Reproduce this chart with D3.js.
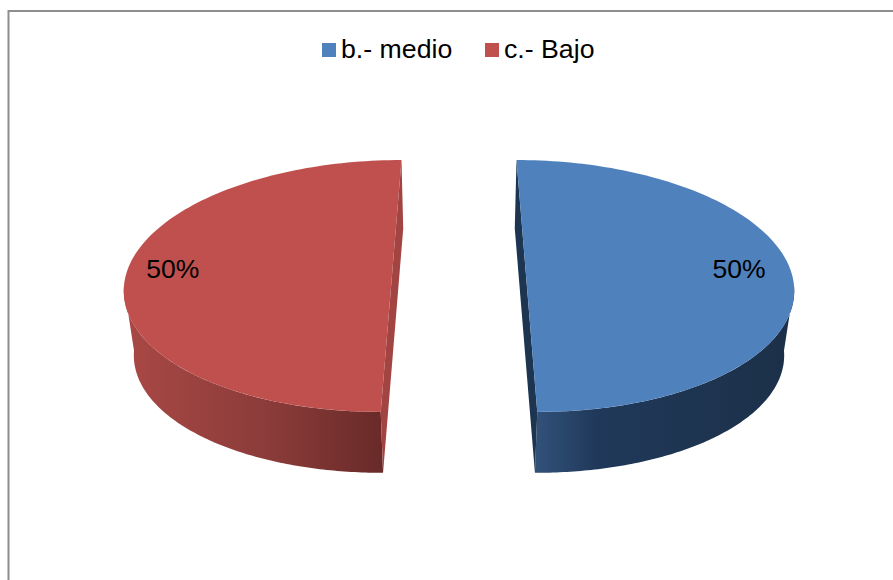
<!DOCTYPE html>
<html>
<head>
<meta charset="utf-8">
<script src="https://cdn.jsdelivr.net/npm/d3@7"></script>
<style>
    html, body { margin: 0; padding: 0; background: #fff; overflow: hidden; }
    svg { display: block; }
    text { font-family: "Liberation Sans", Arial, sans-serif; fill: #000; }
</style>
</head>
<body>
<svg id="chart" width="893" height="580"></svg>
<script>
const categories = ['b.- medio', 'c.- Bajo'];
const values = [50, 50];
const labels = ['50%', '50%'];

const topColors = ['#4f81bd', '#c0504d'];
const sideColors = ['#1d3550', '#a24542'];
const wallStops = [
    [['0%', '#32527a'], ['25%', '#20395a'], ['100%', '#1c3149']],
    [['0%', '#a64744'], ['55%', '#8a3b39'], ['100%', '#682a28']],
];
const labelRadius = [0.81, 0.833];

const svg = d3.select('#chart');

// frame of the chart area, it runs off the right and bottom of the picture
svg.append('rect')
    .attr('x', 8.5).attr('y', 11)
    .attr('width', 900).attr('height', 590)
    .attr('fill', '#fff')
    .attr('stroke', '#8e8e8e')
    .attr('stroke-width', 2);

// 3D view of the pie: perspective on the ground plane, explode along x
const centerX = 459;
const topY = 266.7;
const bottomY = 332;
const radiusX = 264;
const radiusY = 123;
const persp = 0.153;
const explode = 66.3;
const bottomScale = 0.97;

function project(angle, r, side, level) {
    const u = Math.sin(angle) * r;
    const v = -Math.cos(angle) * r;
    const w = 1 / (1 - persp * v);
    const s = level === 1 ? bottomScale : 1;
    return [
        centerX + (radiusX * u + side * explode) * w * s,
        (level === 1 ? bottomY : topY) + radiusY * v * w * s,
    ];
}

const line = d3.line().curve(d3.curveLinear);
const slices = d3.pie().sort(null)(values);

// rim stops being visible where it turns away at the widest point
const tangent = Math.acos(persp);

function samples(a0, a1) {
    return d3.range(0, 121).map((i) => a0 + ((a1 - a0) * i) / 120);
}

const defs = svg.append('defs');

slices.forEach((d, i) => {
    const side = d.startAngle < Math.PI - 0.001 ? 1 : -1;
    const g = svg.append('g').attr('class', 'slice');

    // outer wall, only the front part
    const a0 = side === 1 ? Math.PI - tangent : d.startAngle;
    const a1 = side === 1 ? d.endAngle : Math.PI + tangent;
    const wallAngles = samples(a0, a1);
    const upper = wallAngles.map((a) => project(a, 1, side, 0));
    const lower = wallAngles.map((a) => project(a, 1, side, 1)).reverse();

    const gradId = `wall-${i}`;
    const cutX = project(Math.PI, 1, side, 1)[0];
    const farX = project(Math.PI / 2 + (side === 1 ? 0 : Math.PI), 1, side, 1)[0];
    const grad = defs.append('linearGradient')
        .attr('id', gradId)
        .attr('gradientUnits', 'userSpaceOnUse')
        .attr('x1', side === 1 ? cutX : farX).attr('x2', side === 1 ? farX : cutX)
        .attr('y1', 0).attr('y2', 0);
    wallStops[i].forEach((s) => grad.append('stop').attr('offset', s[0]).attr('stop-color', s[1]));

    g.append('path')
        .attr('d', line(upper.concat(lower)) + 'Z')
        .attr('fill', `url(#${gradId})`);

    // cut face seen through the gap
    const cut = [
        project(0, 1, side, 0),
        project(0, 1, side, 1),
        project(Math.PI, 1, side, 1),
        project(Math.PI, 1, side, 0),
    ];
    g.append('path')
        .attr('d', line(cut) + 'Z')
        .attr('fill', sideColors[i]);

    // top face
    const rim = samples(d.startAngle, d.endAngle).map((a) => project(a, 1, side, 0));
    g.append('path')
        .attr('d', line(rim) + 'Z')
        .attr('fill', topColors[i]);

    // data label
    const pos = project((d.startAngle + d.endAngle) / 2, labelRadius[i], side, 0);
    g.append('text')
        .attr('x', pos[0]).attr('y', pos[1] + 11)
        .attr('text-anchor', 'middle')
        .style('font-size', '26.5px')
        .text(labels[i]);
});

// legend
const legendX = d3.scaleOrdinal().domain(categories).range([322, 485]);
const legend = svg.selectAll('.legend')
    .data(categories)
    .join('g')
    .attr('class', 'legend')
    .attr('transform', (c) => `translate(${legendX(c)},43)`);

legend.append('rect')
    .attr('width', 14).attr('height', 14)
    .attr('fill', (c, i) => topColors[i]);

legend.append('text')
    .attr('x', 19).attr('y', 15)
    .style('font-size', '26.7px')
    .text((c) => c);
</script>
</body>
</html>
